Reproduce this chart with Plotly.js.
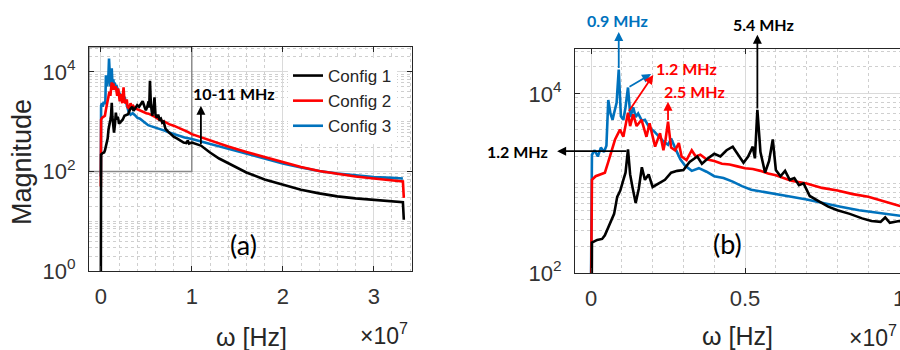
<!DOCTYPE html>
<html>
<head>
<meta charset="utf-8">
<script src="https://cdn.plot.ly/plotly-3.0.1.min.js"></script>
<style>
  html, body { margin: 0; padding: 0; background: #ffffff; }
  #chart { width: 900px; height: 350px; }
</style>
</head>
<body>
<div id="chart"></div>
<script>
// Spectrum magnitude of the three configurations (frequency in MHz)
const freqConfig1 = [0, 0.03, 0.2, 0.36, 0.45, 0.55, 0.65, 0.75, 0.85, 0.95,
  1.05, 1.12, 1.2, 1.27, 1.35, 1.45, 1.55, 1.65, 1.75, 1.87,
  2.0, 2.2, 2.4, 2.6, 2.8, 3.0, 3.2, 3.45, 3.6, 3.8,
  4.0, 4.2, 4.4, 4.6, 4.8, 4.95, 5.1, 5.25, 5.32, 5.4,
  5.5, 5.65, 5.78, 5.9, 6.0, 6.15, 6.3, 6.45, 6.6, 6.75,
  6.9, 7.1, 7.4, 7.7, 8.0, 8.4, 8.8, 9.1, 9.4, 9.55,
  9.7, 10.0, 11, 12, 13, 14, 15, 16, 18, 20,
  22, 24, 26, 28, 30, 32, 33.2, 33.3];
const magConfig1 = [0.5, 219, 234, 240, 263, 316, 389, 457, 708, 832,
  1096, 1318, 2399, 1259, 891, 603, 871, 1514, 1096, 1259,
  912, 1000, 1096, 1318, 1380, 1413, 1738, 1995, 1660, 1905,
  2138, 1995, 2344, 2570, 1995, 1698, 1995, 2570, 1905, 6607,
  2239, 1318, 1778, 3090, 1413, 1202, 1380, 1096, 1148, 955,
  1000, 724, 631, 550, 501, 457, 407, 380, 372, 417,
  363, 380, 331, 240, 182, 148, 117, 95.5, 69.2, 53.7,
  42.7, 36.3, 31.6, 28.8, 26.9, 25.1, 24.0, 10.7];

const freqConfig2 = [0, 0.03, 0.15, 0.3, 0.45, 0.55, 0.68, 0.78, 0.94, 1.05,
  1.2, 1.27, 1.37, 1.48, 1.64, 1.8, 1.9, 2.08, 2.24, 2.35,
  2.42, 2.5, 2.6, 2.73, 2.85, 2.94, 3.1, 3.27, 3.4, 3.55,
  3.75, 4.0, 4.25, 4.5, 4.75, 5.0, 5.25, 5.5, 5.75, 6.0,
  6.25, 6.5, 7.0, 7.5, 8.0, 8.5, 9.0, 9.5, 10.0, 12,
  14, 16, 18, 20, 22, 24, 26, 28, 30, 32,
  33.2, 33.3];
const magConfig2 = [50, 1096, 1202, 1259, 1318, 1698, 2344, 3090, 3981, 3311,
  6166, 4365, 5888, 4365, 5129, 3311, 4677, 2570, 3631, 2344,
  3090, 4898, 2512, 2344, 2818, 1995, 1820, 2344, 1995, 2089,
  1862, 1778, 1660, 1622, 1549, 1479, 1445, 1380, 1288, 1230,
  1148, 1072, 1000, 891, 832, 759, 708, 631, 562, 417,
  316, 245, 195, 151, 123, 102, 89.1, 79.4, 72.4, 67.6,
  63.1, 29.5];

const freqConfig3 = [0, 0.03, 0.12, 0.22, 0.32, 0.42, 0.5, 0.56, 0.63, 0.7,
  0.76, 0.83, 0.9, 0.97, 1.05, 1.12, 1.2, 1.28, 1.37, 1.45,
  1.53, 1.65, 1.75, 1.9, 2.05, 2.2, 2.35, 2.5, 2.6, 2.75,
  2.9, 3.05, 3.27, 3.5, 3.75, 4.0, 4.3, 4.6, 4.9, 5.2,
  5.5, 5.9, 6.5, 7.0, 7.5, 8.1, 8.7, 9.2, 10.0, 12,
  14, 16, 18, 20, 22, 24, 26, 28, 30, 32,
  33.2];
const magConfig3 = [79.4, 2089, 2344, 1995, 2512, 2239, 2630, 8511, 6026, 5129,
  6310, 7943, 18621, 5623, 5129, 7079, 11749, 5495, 7079, 5495,
  6026, 5012, 5129, 4169, 3802, 3311, 2951, 2692, 3162, 2399,
  1862, 1585, 1380, 1479, 1349, 1202, 1148, 1047, 933, 851,
  813, 776, 708, 661, 603, 550, 501, 479, 447, 355,
  282, 224, 182, 145, 120, 102, 91.2, 83.2, 77.6, 74.1,
  72.4];

const seriesNames = ['Config 1', 'Config 2', 'Config 3'];

// x tick labels are in units of 10^7 Hz (= 10 MHz)
const xTicksA = [0, 10, 20, 30];
const xTickTextA = ['0', '1', '2', '3'];
const xTicksB = [0, 5, 10];
const xTickTextB = ['0', '0.5', '1'];
const yTicksA = [1, 100, 10000];
const yTickTextA = ['10<sup>0</sup>', '10<sup>2</sup>', '10<sup>4</sup>'];
const yTicksB = [100, 10000];
const yTickTextB = ['10<sup>2</sup>', '10<sup>4</sup>'];

// axis windows (x in MHz, y as log10 of magnitude)
const xRangeA = [-1.3, 34.2];
const xRangeB = [-0.52, 10.03];
const yRangeA = [0, 4.5];
const yRangeB = [2, 4.5];

const BLACK = '#000000', RED = '#ff0000', BLUE = '#0072bd';
const AXIS_FONT = 'Liberation Sans, Arial, sans-serif';
const NOTE_FONT = 'Lato, Open Sans, sans-serif';

// minor grid positions for the log axes (2..9 of every decade and odd decades)
function logMinor(d0, d1, majors) {
  const v = [];
  for (let d = d0; d <= d1; d++) {
    for (let k = 1; k <= 9; k++) {
      const t = k * Math.pow(10, d);
      if (!majors.includes(t)) v.push(t);
    }
  }
  return v;
}

function lineTrace(x, y, name, color, xa, ya, rank, showLegend) {
  return {
    type: 'scatter', mode: 'lines', x: x, y: y, name: name,
    xaxis: xa, yaxis: ya, legendrank: rank, showlegend: showLegend,
    line: { color: color, width: 2.6, shape: 'linear' },
    hoverinfo: 'skip'
  };
}

const traces = [];
[['x', 'y', true], ['x2', 'y2', false]].forEach(([xa, ya, leg]) => {
  traces.push(lineTrace(freqConfig3, magConfig3, seriesNames[2], BLUE, xa, ya, 3, leg));
  traces.push(lineTrace(freqConfig2, magConfig2, seriesNames[1], RED, xa, ya, 2, leg));
  traces.push(lineTrace(freqConfig1, magConfig1, seriesNames[0], BLACK, xa, ya, 1, leg));
});

// log10 magnitude of a series at a listed frequency
function peakLog(freqs, mags, f) {
  return Math.log10(mags[freqs.indexOf(f)]);
}

const axisCommon = {
  showline: true, linecolor: '#262626', linewidth: 1,
  ticks: 'inside', ticklen: 5, tickcolor: '#262626',
  showgrid: true, gridcolor: '#dadada', gridwidth: 1,
  zeroline: false, fixedrange: true,
  tickfont: { family: AXIS_FONT, size: 22, color: '#333333' }
};
const minorCommon = { showgrid: true, gridcolor: '#cfcfcf', griddash: 'dot', gridwidth: 1, ticks: '' };

const W = 900, H = 350;
const px = v => v / W;
const py = v => 1 - v / H;

const arrow = (xa, ya, x, y, ax, ay, color) => ({
  xref: xa, yref: ya, axref: xa, ayref: ya,
  x: x, y: y, ax: ax, ay: ay, text: '',
  showarrow: true, arrowhead: 2, arrowsize: 1, arrowwidth: 1.8,
  arrowcolor: color, standoff: 0, startstandoff: 0
});
const label = (text, x, y, color, size, bold, family, angle) => ({
  xref: 'paper', yref: 'paper', x: px(x), y: py(y),
  xanchor: 'center', yanchor: 'middle', showarrow: false,
  text: bold ? '<b>' + text + '</b>' : text, textangle: angle || 0,
  font: { family: family, size: size, color: color }
});

const annotations = [
  // panel (a)
  arrow('x', 'y', 11, 3.32, 11, Math.log10(magConfig1[freqConfig1.indexOf(11)]), BLACK),
  label('10-11 MHz', 234, 93, BLACK, 16, true, NOTE_FONT),
  // panel (b)
  arrow('x2', 'y2', 0.9, 4.69, 0.9, peakLog(freqConfig3, magConfig3, 0.9), BLUE),
  arrow('x2', 'y2', 1.95, 4.22, 1.2, peakLog(freqConfig3, magConfig3, 1.2), BLUE),
  arrow('x2', 'y2', 2.02, 4.21, 1.2, peakLog(freqConfig2, magConfig2, 1.2), RED),
  arrow('x2', 'y2', 2.5, 3.91, 2.5, peakLog(freqConfig2, magConfig2, 2.5), RED),
  arrow('x2', 'y2', -1.1, peakLog(freqConfig1, magConfig1, 1.2) - 0.02, 1.2, peakLog(freqConfig1, magConfig1, 1.2) - 0.02, BLACK),
  arrow('x2', 'y2', 5.4, 4.66, 5.4, peakLog(freqConfig1, magConfig1, 5.4), BLACK),
  label('0.9 MHz', 617, 20, BLUE, 16, true, NOTE_FONT),
  label('1.2 MHz', 686, 68, RED, 16, true, NOTE_FONT),
  label('2.5 MHz', 694, 91, RED, 16, true, NOTE_FONT),
  label('1.2 MHz', 517, 151, BLACK, 16, true, NOTE_FONT),
  label('5.4 MHz', 763, 25, BLACK, 16, true, NOTE_FONT),
  // panel tags and axis titles
  label('(a)', 243, 245, BLACK, 27, false, NOTE_FONT),
  label('(b)', 727, 243, BLACK, 27, false, NOTE_FONT),
  label('Magnitude', 22, 162, '#262626', 27, false, AXIS_FONT, -90),
  label('\u03c9 [Hz]', 251, 337, '#262626', 25, false, AXIS_FONT),
  label('\u03c9 [Hz]', 737, 336, '#262626', 25, false, AXIS_FONT),
  label('\u00d710<sup>7</sup>', 384, 334, '#262626', 23, false, AXIS_FONT),
  label('\u00d710<sup>7</sup>', 873, 336, '#262626', 23, false, AXIS_FONT)
];

const layout = {
  width: W, height: H,
  margin: { l: 0, r: 0, t: 0, b: 0, pad: 0 },
  paper_bgcolor: '#ffffff', plot_bgcolor: '#ffffff',
  showlegend: true,
  legend: {
    x: px(288), y: py(58), xanchor: 'left', yanchor: 'top',
    bgcolor: '#ffffff', borderwidth: 0, tracegroupgap: 0,
    font: { family: AXIS_FONT, size: 17, color: '#262626' }
  },
  xaxis: Object.assign({}, axisCommon, {
    domain: [px(89), px(412)], anchor: 'y', range: xRangeA, mirror: 'ticks',
    tickmode: 'array', tickvals: xTicksA, ticktext: xTickTextA, ticklabelstandoff: 6,
    minor: Object.assign({ tickmode: 'array', tickvals: [2, 4, 6, 8, 12, 14, 16, 18, 22, 24, 26, 28, 32, 34] }, minorCommon)
  }),
  yaxis: Object.assign({}, axisCommon, {
    domain: [py(271), py(47)], anchor: 'x', type: 'log', range: yRangeA, mirror: 'ticks',
    tickmode: 'array', tickvals: yTicksA, ticktext: yTickTextA, ticklabelstandoff: 8,
    minor: Object.assign({ tickmode: 'array', tickvals: logMinor(0, 4, yTicksA) }, minorCommon)
  }),
  xaxis2: Object.assign({}, axisCommon, {
    domain: [px(575), 1], anchor: 'y2', range: xRangeB, mirror: 'ticks',
    tickmode: 'array', tickvals: xTicksB, ticktext: xTickTextB, ticklabelstandoff: 6,
    ticklabeloverflow: 'allow',
    minor: Object.assign({ tickmode: 'array', tickvals: [1, 2, 3, 4, 6, 7, 8, 9] }, minorCommon)
  }),
  yaxis2: Object.assign({}, axisCommon, {
    domain: [py(273), py(49)], anchor: 'x2', type: 'log', range: yRangeB, mirror: false,
    tickmode: 'array', tickvals: yTicksB, ticktext: yTickTextB, ticklabelstandoff: 8,
    minor: Object.assign({ tickmode: 'array', tickvals: logMinor(2, 4, yTicksB) }, minorCommon)
  }),
  shapes: [{
    type: 'rect', xref: 'x', yref: 'y', layer: 'between',
    x0: xRangeA[0], x1: 10, y0: 100, y1: Math.pow(10, yRangeA[1]),
    line: { color: 'rgba(110,110,110,0.75)', width: 1.5 }, fillcolor: 'rgba(0,0,0,0)'
  }],
  annotations: annotations
};

Plotly.newPlot('chart', traces, layout, { staticPlot: true, displayModeBar: false });
</script>
</body>
</html>
